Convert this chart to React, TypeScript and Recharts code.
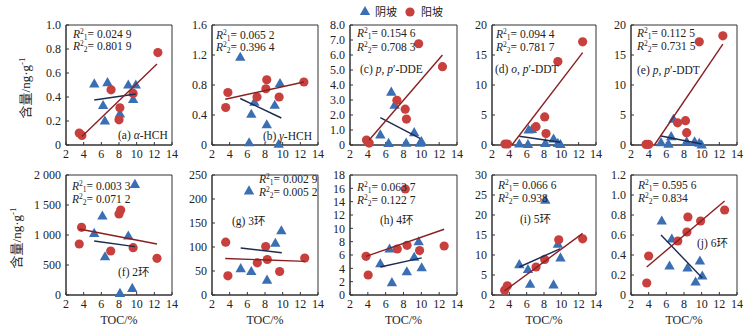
import React from 'react';
import { ScatterChart, Scatter, XAxis, YAxis, ReferenceArea } from 'recharts';

const SERIF = '"Liberation Serif", "Times New Roman", "Noto Sans CJK SC", serif';
const CJK = '"Liberation Serif", "Noto Sans CJK SC", serif';
const RED = '#c8403e';
const BLUE = '#3b6fb4';
const RED_LINE = '#8a1f22';
const BLUE_LINE = '#1c2b4f';

type Pt = [number, number];

const xTicks = [2, 4, 6, 8, 10, 12, 14];
const xLabel = 'TOC/%';
const yLabel = '含量/ng·g';
const seriesNames = ['阴坡', '阳坡'];

// (a) α-HCH
const aShady: Pt[] = [[5.2, 0.51], [6.7, 0.52], [6.2, 0.33], [6.4, 0.2], [8.1, 0.26], [9.05, 0.5], [9.6, 0.38], [9.9, 0.5]];
const aSunny: Pt[] = [[3.5, 0.1], [3.8, 0.08], [7.1, 0.46], [8.1, 0.31], [8.0, 0.21], [9.6, 0.43], [12.4, 0.77]];
const aShadyFit: Pt[] = [[5.2, 0.375], [9.9, 0.425]];
const aSunnyFit: Pt[] = [[3.8, 0.07], [12.3, 0.675]];
const aTicks = [0, 0.2, 0.4, 0.6, 0.8, 1.0];
const aTickLabels = ['0', '0.2', '0.4', '0.6', '0.8', '1.0'];
const aR2 = ['0.024 9', '0.801 9'];

// (b) γ-HCH
const bShady: Pt[] = [[5.2, 1.17], [6.45, 0.41], [6.8, 0.57], [6.2, 0.03], [8.2, 0.27], [9.1, 0.53], [9.7, 0.82], [9.55, 0.01]];
const bSunny: Pt[] = [[3.55, 0.5], [3.8, 0.7], [7.1, 0.64], [8.1, 0.75], [8.2, 0.87], [9.6, 0.64], [12.4, 0.84]];
const bShadyFit: Pt[] = [[5.2, 0.62], [9.85, 0.36]];
const bSunnyFit: Pt[] = [[3.5, 0.61], [12.4, 0.84]];
const bTicks = [0, 0.4, 0.8, 1.2, 1.6];
const bTickLabels = ['0', '0.4', '0.8', '1.2', '1.6'];
const bR2 = ['0.065 2', '0.396 4'];

// (c) p,p'-DDE
const cShady: Pt[] = [[6.63, 3.53], [7.0, 2.65], [5.4, 0.68], [6.33, 0.11], [8.3, 0.13], [9.2, 0.83], [9.85, 0.13], [10.0, 0.24]];
const cSunny: Pt[] = [[3.85, 0.33], [4.15, 0.13], [7.26, 2.98], [8.19, 2.39], [8.33, 1.73], [9.7, 6.75], [12.37, 5.22]];
const cShadyFit: Pt[] = [[5.4, 1.82], [9.85, 0.44]];
const cSunnyFit: Pt[] = [[4.15, 0.33], [12.37, 6.0]];
const cTicks = [0, 1, 2, 3, 4, 5, 6, 7, 8];
const cTickLabels = ['0', '1.0', '2.0', '3.0', '4.0', '5.0', '6.0', '7.0', '8.0'];
const cR2 = ['0.154 6', '0.708 3'];

// (d) o,p'-DDT
const dShady: Pt[] = [[5.15, 0.17], [6.23, 2.5], [6.6, 2.6], [6.15, 0.1], [8.15, 0.28], [9.1, 1.0], [9.6, 0.28], [9.9, 0.1]];
const dSunny: Pt[] = [[3.5, 0.17], [3.8, 0.17], [7.08, 3.06], [8.08, 4.68], [8.23, 1.9], [9.6, 13.9], [12.46, 17.2]];
const dShadyFit: Pt[] = [[5.15, 1.45], [9.9, 0.45]];
const dSunnyFit: Pt[] = [[4.3, 0], [12.46, 15.4]];
const dTicks = [0, 5, 10, 15, 20];
const dTickLabels = ['0', '5', '10', '15', '20'];
const dR2 = ['0.094 4', '0.781 7'];

// (e) p,p'-DDT
const eShady: Pt[] = [[5.4, 0.4], [6.24, 0.15], [6.55, 1.4], [6.8, 4.3], [8.3, 0.55], [9.2, 0.55], [9.73, 0.3], [10.0, 0]];
const eSunny: Pt[] = [[3.7, 0.1], [4.0, 0.1], [7.27, 3.7], [8.17, 4.05], [8.3, 2.05], [9.73, 17.2], [12.4, 18.2]];
const eShadyFit: Pt[] = [[5.4, 1.5], [10.0, 0.17]];
const eSunnyFit: Pt[] = [[4.65, 0], [12.4, 16.8]];
const eTicks = [0, 5, 10, 15, 20];
const eTickLabels = ['0', '5', '10', '15', '20'];
const eR2 = ['0.112 5', '0.731 5'];

// (f) 2环
const fShady: Pt[] = [[5.19, 1028], [6.12, 1317], [6.42, 639], [8.11, 28], [9.05, 983], [9.5, 111], [9.8, 1844]];
const fSunny: Pt[] = [[3.5, 850], [3.76, 1128], [7.06, 733], [8.0, 1350], [8.19, 1417], [9.6, 789], [12.3, 611]];
const fShadyFit: Pt[] = [[5.19, 900], [9.8, 806]];
const fSunnyFit: Pt[] = [[3.5, 1100], [12.3, 850]];
const fTicks = [0, 500, 1000, 1500, 2000];
const fTickLabels = ['0', '500', '1 000', '1 500', '2 000'];
const fR2 = ['0.003 3', '0.071 2'];

// (g) 3环
const gShady: Pt[] = [[6.19, 217], [5.25, 55], [6.45, 49], [8.23, 31], [9.17, 108], [9.85, 134]];
const gSunny: Pt[] = [[3.55, 110], [3.8, 40], [7.13, 67], [8.08, 101], [8.26, 74], [9.66, 49], [12.5, 77]];
const gShadyFit: Pt[] = [[5.25, 98], [9.9, 88]];
const gSunnyFit: Pt[] = [[3.5, 76], [12.5, 70]];
const gTicks = [0, 50, 100, 150, 200, 250];
const gTickLabels = ['0', '50', '100', '150', '200', '250'];
const gR2 = ['0.002 9', '0.005 2'];

// (h) 4环
const hShady: Pt[] = [[5.4, 4.7], [6.44, 6.9], [6.7, 1.87], [8.37, 3.5], [9.2, 5.67], [9.7, 8.0], [10.04, 4.1]];
const hSunny: Pt[] = [[3.8, 5.8], [4.04, 3.0], [7.3, 6.9], [8.4, 7.45], [8.2, 15.9], [9.8, 6.66], [12.56, 7.35]];
const hShadyFit: Pt[] = [[5.4, 4.2], [10.04, 5.57]];
const hSunnyFit: Pt[] = [[3.8, 5.8], [12.56, 9.86]];
const hTicks = [0, 2, 4, 6, 8, 10, 12, 14, 16, 18];
const hTickLabels = ['0', '2', '4', '6', '8', '10', '12', '14', '16', '18'];
const hR2 = ['0.063 7', '0.122 7'];

// (i) 5环
const iShady: Pt[] = [[5.15, 7.6], [6.15, 6.4], [6.4, 2.7], [8.15, 23.7], [9.1, 2.55], [9.6, 12.7], [9.9, 9.3]];
const iSunny: Pt[] = [[3.46, 1.2], [3.77, 2.3], [7.08, 7.0], [8.08, 8.9], [9.7, 13.8], [12.46, 14.05]];
const iShadyFit: Pt[] = [[5.15, 7.0], [9.9, 11.6]];
const iSunnyFit: Pt[] = [[3.46, 1.07], [12.46, 15.4]];
const iTicks = [0, 5, 10, 15, 20, 25, 30];
const iTickLabels = ['0', '5', '10', '15', '20', '25', '30'];
const iR2 = ['0.066 6', '0.938'];

// (j) 6环
const jShady: Pt[] = [[5.48, 0.74], [6.36, 0.29], [6.62, 0.56], [8.4, 0.27], [9.31, 0.13], [9.8, 0.34], [10.07, 0.19]];
const jSunny: Pt[] = [[3.78, 0.12], [4.0, 0.39], [7.3, 0.54], [8.33, 0.63], [8.44, 0.78], [9.88, 0.74], [12.6, 0.85]];
const jShadyFit: Pt[] = [[5.4, 0.6], [10.07, 0.17]];
const jSunnyFit: Pt[] = [[3.78, 0.28], [12.6, 0.94]];
const jTicks = [0, 0.2, 0.4, 0.6, 0.8, 1.0, 1.2];
const jTickLabels = ['0', '0.2', '0.4', '0.6', '0.8', '1.0', '1.2'];
const jR2 = ['0.595 6', '0.834'];

const toObj = (arr: Pt[]) => arr.map(([x, y]) => ({ x, y }));

const CircleShape = (p: any) => <circle cx={p.cx} cy={p.cy} r={4.6} fill={RED} />;
const TriShape = (p: any) => (
  <polygon points={`${p.cx},${p.cy - 5.5} ${p.cx - 5.2},${p.cy + 3.6} ${p.cx + 5.2},${p.cy + 3.6}`} fill={BLUE} />
);
const NoShape = () => <g />;

const YW = 40;
const MT = 8;
const MR = 10;
const XH = 24;
const PH = 120;

function Panel(props: any) {
  const { left, top, w, ticks, tickLabels, shady, sunny, shadyFit, sunnyFit } = props;
  const max = ticks[ticks.length - 1];
  const tickStyle = { fontSize: 12, fill: '#222', fontFamily: SERIF };
  return (
    <div style={{ position: 'absolute', left: left - YW, top: top - MT }}>
      <ScatterChart width={YW + w + MR} height={MT + PH + XH} margin={{ top: MT, right: MR, left: 0, bottom: 0 }}>
        <XAxis
          type="number"
          dataKey="x"
          domain={[2, 14]}
          ticks={xTicks}
          interval={0}
          height={XH}
          tickSize={-3}
          tickMargin={7}
          stroke="#333"
          tick={tickStyle}
        />
        <YAxis
          type="number"
          dataKey="y"
          domain={[0, max]}
          ticks={ticks}
          interval={0}
          width={YW}
          tickSize={-3}
          tickMargin={8}
          stroke="#333"
          tick={tickStyle}
          tickFormatter={(v: number) => {
            const k = ticks.findIndex((t: number) => Math.abs(t - v) < 1e-9);
            return k >= 0 ? tickLabels[k] : String(v);
          }}
        />
        <ReferenceArea x1={2} x2={14} y1={0} y2={max} fill="none" fillOpacity={0} stroke="#333" strokeWidth={1} />
        <Scatter name={seriesNames[0]} data={toObj(shady)} shape={TriShape} isAnimationActive={false} />
        <Scatter name={seriesNames[1]} data={toObj(sunny)} shape={CircleShape} isAnimationActive={false} />
        <Scatter data={toObj(shadyFit)} line={{ stroke: BLUE_LINE, strokeWidth: 1.4 }} shape={NoShape} isAnimationActive={false} />
        <Scatter data={toObj(sunnyFit)} line={{ stroke: RED_LINE, strokeWidth: 1.4 }} shape={NoShape} isAnimationActive={false} />
      </ScatterChart>
    </div>
  );
}

function Txt({ x, y, children, size = 12 }: any) {
  return (
    <div
      style={{
        position: 'absolute',
        left: x,
        top: y,
        transform: 'translateY(-50%)',
        fontSize: size,
        lineHeight: 1,
        whiteSpace: 'nowrap',
        fontFamily: SERIF,
        color: '#222',
      }}
    >
      {children}
    </div>
  );
}

function R2Line({ x, y, idx, value }: any) {
  return (
    <Txt x={x} y={y} size={11.5}>
      <i>R</i>
      <span style={{ fontSize: 7.5, position: 'relative', top: -4, lineHeight: 0 }}>2</span>
      <span style={{ fontSize: 7.5, position: 'relative', top: 2, lineHeight: 0 }}>{idx}</span>
      <span>= {value}</span>
    </Txt>
  );
}

const panels = [
  { left: 66, top: 25, w: 106, ticks: aTicks, tickLabels: aTickLabels, shady: aShady, sunny: aSunny, shadyFit: aShadyFit, sunnyFit: aSunnyFit, r2: aR2, r2Pos: [73, 35, 47], title: <>(a) <i>α</i>-HCH</>, titlePos: [118, 136] },
  { left: 212, top: 25, w: 106, ticks: bTicks, tickLabels: bTickLabels, shady: bShady, sunny: bSunny, shadyFit: bShadyFit, sunnyFit: bSunnyFit, r2: bR2, r2Pos: [216, 36, 48], title: <>(b) <i>γ</i>-HCH</>, titlePos: [263, 137] },
  { left: 350, top: 25, w: 107, ticks: cTicks, tickLabels: cTickLabels, shady: cShady, sunny: cSunny, shadyFit: cShadyFit, sunnyFit: cSunnyFit, r2: cR2, r2Pos: [357, 34, 48], title: <>(c) <i>p</i>, <i>p</i>′-DDE</>, titlePos: [360, 70] },
  { left: 492, top: 25, w: 104, ticks: dTicks, tickLabels: dTickLabels, shady: dShady, sunny: dSunny, shadyFit: dShadyFit, sunnyFit: dSunnyFit, r2: dR2, r2Pos: [496, 35, 48], title: <>(d) <i>o</i>, <i>p</i>′-DDT</>, titlePos: [495, 70] },
  { left: 631, top: 25, w: 106, ticks: eTicks, tickLabels: eTickLabels, shady: eShady, sunny: eSunny, shadyFit: eShadyFit, sunnyFit: eSunnyFit, r2: eR2, r2Pos: [637, 34, 47], title: <>(e) <i>p</i>, <i>p</i>′-DDT</>, titlePos: [637, 71] },
  { left: 66, top: 175, w: 106, ticks: fTicks, tickLabels: fTickLabels, shady: fShady, sunny: fSunny, shadyFit: fShadyFit, sunnyFit: fSunnyFit, r2: fR2, r2Pos: [72, 187, 200], title: <>(f) 2环</>, titlePos: [118, 273] },
  { left: 212, top: 175, w: 106, ticks: gTicks, tickLabels: gTickLabels, shady: gShady, sunny: gSunny, shadyFit: gShadyFit, sunnyFit: gSunnyFit, r2: gR2, r2Pos: [259, 180, 193], title: <>(g) 3环</>, titlePos: [232, 222] },
  { left: 350, top: 175, w: 107, ticks: hTicks, tickLabels: hTickLabels, shady: hShady, sunny: hSunny, shadyFit: hShadyFit, sunnyFit: hSunnyFit, r2: hR2, r2Pos: [357, 188, 201], title: <>(h) 4环</>, titlePos: [380, 221] },
  { left: 492, top: 175, w: 104, ticks: iTicks, tickLabels: iTickLabels, shady: iShady, sunny: iSunny, shadyFit: iShadyFit, sunnyFit: iSunnyFit, r2: iR2, r2Pos: [498, 186, 199], title: <>(i) 5环</>, titlePos: [520, 220] },
  { left: 631, top: 175, w: 106, ticks: jTicks, tickLabels: jTickLabels, shady: jShady, sunny: jSunny, shadyFit: jShadyFit, sunnyFit: jSunnyFit, r2: jR2, r2Pos: [638, 186, 199], title: <>(j) 6环</>, titlePos: [697, 244] },
];

function YLabel({ x, y }: any) {
  return (
    <div
      style={{
        position: 'absolute',
        left: x,
        top: y,
        transform: 'translate(-50%, -50%) rotate(-90deg)',
        fontSize: 13,
        whiteSpace: 'nowrap',
        fontFamily: CJK,
        color: '#222',
        lineHeight: 1,
      }}
    >
      {yLabel}
      <span style={{ fontSize: 9, position: 'relative', top: -5, lineHeight: 0 }}>-1</span>
    </div>
  );
}

export default function App() {
  return (
    <div style={{ position: 'absolute', left: 0, top: 0, width: 750, height: 335, background: '#fff', overflow: 'hidden' }}>
      {panels.map((p, k) => (
        <Panel key={k} {...p} />
      ))}
      {panels.map((p, k) => (
        <React.Fragment key={'t' + k}>
          <R2Line x={p.r2Pos[0]} y={p.r2Pos[1]} idx={1} value={p.r2[0]} />
          <R2Line x={p.r2Pos[0]} y={p.r2Pos[2]} idx={2} value={p.r2[1]} />
          <Txt x={p.titlePos[0]} y={p.titlePos[1]} size={11.5}>{p.title}</Txt>
        </React.Fragment>
      ))}
      {panels.slice(5).map((p, k) => (
        <div
          key={'x' + k}
          style={{
            position: 'absolute',
            left: p.left + p.w / 2,
            top: 320,
            transform: 'translate(-50%, -50%)',
            fontSize: 12,
            fontFamily: SERIF,
            color: '#222',
            whiteSpace: 'nowrap',
          }}
        >
          {xLabel}
        </div>
      ))}
      <YLabel x={25} y={88} />
      <YLabel x={16} y={238} />
      <svg style={{ position: 'absolute', left: 355, top: 4 }} width={70} height={16}>
        <polygon points="10,2 4.8,11 15.2,11" fill={BLUE} />
        <circle cx={55} cy={8} r={4.6} fill={RED} />
      </svg>
      <Txt x={375} y={12} size={11}>
        <span style={{ fontFamily: CJK }}>{seriesNames[0]}</span>
      </Txt>
      <Txt x={421} y={12} size={11}>
        <span style={{ fontFamily: CJK }}>{seriesNames[1]}</span>
      </Txt>
    </div>
  );
}
